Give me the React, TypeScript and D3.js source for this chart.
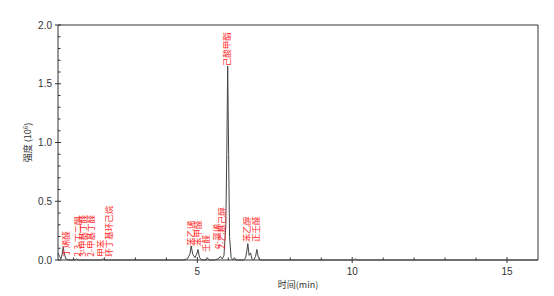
import React from "react";
import * as d3 from "d3";

const W = 554;
const H = 296;

// chromatogram trace (time in min, intensity in 10^6)
const traceTime = [
  0.5, 0.55, 0.6, 0.64, 0.67, 0.7, 0.75, 0.85, 1.05, 1.1, 1.15, 1.5, 1.9, 1.95, 2.0, 2.4,
  4.55, 4.68, 4.76, 4.8, 4.85, 4.92, 4.98, 5.02, 5.07, 5.15, 5.28, 5.32, 5.38, 5.55, 5.68,
  5.74, 5.8, 5.86, 5.92, 5.95, 5.98, 6.01, 6.04, 6.09, 6.15, 6.2, 6.25, 6.32, 6.5, 6.56,
  6.6, 6.63, 6.67, 6.72, 6.76, 6.82, 6.88, 6.92, 6.97, 7.05, 7.5, 10.05, 10.1, 10.15, 16.0,
];
const traceValue = [
  0.06, 0.03, 0.01, 0.06, 0.11, 0.06, 0.01, 0.0, 0.0, 0.01, 0.0, 0.0, 0.0, 0.01, 0.0, 0.0,
  0.0, 0.01, 0.05, 0.12, 0.05, 0.02, 0.05, 0.09, 0.02, 0.0, 0.0, 0.02, 0.0, 0.0, 0.01,
  0.03, 0.01, 0.04, 0.3, 0.9, 1.65, 0.9, 0.2, 0.02, 0.0, 0.02, 0.0, 0.0, 0.0, 0.02,
  0.08, 0.14, 0.04, 0.06, 0.01, 0.0, 0.03, 0.09, 0.02, 0.0, 0.0, 0.0, 0.01, 0.0, 0.0,
];

// peak annotations
const labelNames = [
  "丁烯醛", "2,3-丁二酮", "3-甲基丁醛", "2-甲基丁醛", "甲苯", "环丁基环己烷",
  "苯乙烯", "苯甲醛", "壬醛", "α-蒎烯", "2-乙基己醇", "己酸甲酯", "苯乙醇", "正壬醛",
];
const labelTime = [0.75, 1.14, 1.31, 1.56, 1.9, 2.16, 4.78, 5.03, 5.28, 5.63, 5.8, 5.96, 6.6, 6.89];
const labelBase = [0.02, 0.02, 0.02, 0.02, 0.02, 0.02, 0.11, 0.11, 0.06, 0.085, 0.085, 1.64, 0.145, 0.145];

const yMajor = [0, 0.5, 1.0, 1.5, 2.0];
const xMajor = [5, 10, 15];

export default function App() {
  const left = 58, right = 538, top = 25, bottom = 260;
  const x = d3.scaleLinear().domain([0.5, 16]).range([left, right]);
  const y = d3.scaleLinear().domain([0, 2]).range([bottom, top]);
  const line = d3.line<number>().x((_, i) => x(traceTime[i])).y((d) => y(d));
  const yMinor = d3.range(0, 2.0001, 0.1).filter((v) => Math.abs(v * 2 - Math.round(v * 2)) > 1e-6);
  const xMinor = d3.range(1, 16, 1).filter((v) => v % 5 !== 0);
  const axisColor = "#333";
  const font = "'Liberation Sans', Arial, sans-serif";
  return (
    <svg width={W} height={H} style={{ position: "absolute", left: 0, top: 0, background: "#fff" }}>
      {/* frame */}
      <line x1={left} x2={right} y1={top} y2={top} stroke={axisColor} strokeWidth={1} />
      <line x1={right} x2={right} y1={top} y2={bottom} stroke={axisColor} strokeWidth={1} />
      <line x1={left} x2={left} y1={top} y2={bottom} stroke={axisColor} strokeWidth={1} />
      <line x1={left} x2={right} y1={bottom} y2={bottom} stroke={axisColor} strokeWidth={1} />
      {/* y ticks */}
      {yMajor.map((v) => (
        <g key={"ym" + v}>
          <line x1={left - 3} x2={left + 3} y1={y(v)} y2={y(v)} stroke={axisColor} />
          <text x={left - 6} y={y(v) + 3.5} textAnchor="end" fontSize={10} fontFamily={font} fill="#333">
            {v.toFixed(1)}
          </text>
        </g>
      ))}
      {yMinor.map((v) => (
        <line key={"yn" + v} x1={left} x2={left + 2.5} y1={y(v)} y2={y(v)} stroke={axisColor} />
      ))}
      {/* x ticks */}
      {xMajor.map((v) => (
        <g key={"xm" + v}>
          <line x1={x(v)} x2={x(v)} y1={bottom - 3} y2={bottom + 3} stroke={axisColor} />
          <text x={x(v)} y={bottom + 15} textAnchor="middle" fontSize={10} fontFamily={font} fill="#333">
            {v}
          </text>
        </g>
      ))}
      {xMinor.map((v) => (
        <line key={"xn" + v} x1={x(v)} x2={x(v)} y1={bottom} y2={bottom - 2.5} stroke={axisColor} />
      ))}
      {/* axis titles */}
      <text
        transform={`translate(${31},${(top + bottom) / 2}) rotate(-90)`}
        textAnchor="middle"
        fontSize={9}
        fontFamily="'Noto Sans CJK SC', sans-serif"
        fill="#333"
      >
        强度 (10<tspan dy={-3} fontSize={6}>6</tspan><tspan dy={3}>)</tspan>
      </text>
      <text
        x={298}
        y={288}
        textAnchor="middle"
        fontSize={9}
        fontFamily="'Noto Sans CJK SC', serif"
        fill="#333"
      >
        时间(min)
      </text>
      {/* trace */}
      <path d={line(traceValue) || ""} fill="none" stroke="#444" strokeWidth={1} />
      {/* labels */}
      {labelNames.map((n, i) => (
        <text
          key={n}
          transform={`translate(${x(labelTime[i]) + 3},${y(labelBase[i]) - 1}) rotate(-90)`}
          fontSize={8.5}
          fontFamily="'Noto Sans CJK SC', sans-serif"
          fill="#ff2a2a"
        >
          {n}
        </text>
      ))}
    </svg>
  );
}
